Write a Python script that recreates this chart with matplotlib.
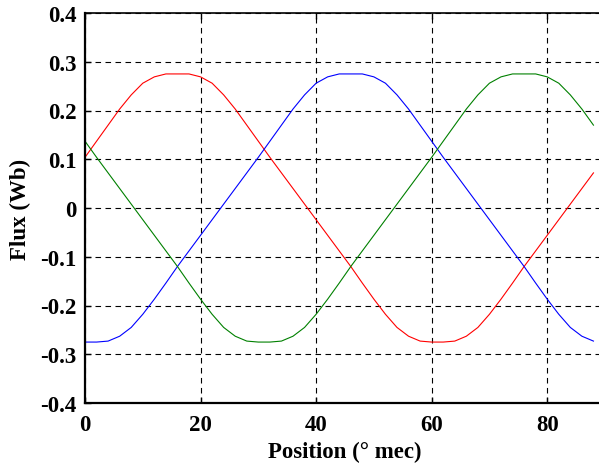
import numpy as np
import matplotlib
matplotlib.use('Agg')
import matplotlib.pyplot as plt

plt.rcParams['font.family'] = ['Liberation Serif', 'DejaVu Serif']
plt.rcParams['font.weight'] = 'bold'

# position (mech. degrees), step 2
pos = np.arange(0, 89, 2)

flux_a = [0.104, 0.137, 0.170, 0.203, 0.232, 0.256, 0.269, 0.275, 0.275, 0.275,
          0.269, 0.256, 0.232, 0.203, 0.170, 0.137, 0.104, 0.072, 0.040, 0.008,
          -0.024, -0.056, -0.088, -0.120, -0.154, -0.187, -0.218, -0.245, -0.263, -0.273,
          -0.275, -0.275, -0.273, -0.263, -0.245, -0.218, -0.187, -0.154, -0.120, -0.088,
          -0.056, -0.024, 0.008, 0.040, 0.072]
flux_b = [-0.275, -0.275, -0.273, -0.263, -0.245, -0.218, -0.187, -0.154, -0.120, -0.088,
          -0.056, -0.024, 0.008, 0.040, 0.072, 0.104, 0.137, 0.170, 0.203, 0.232,
          0.256, 0.269, 0.275, 0.275, 0.275, 0.269, 0.256, 0.232, 0.203, 0.170,
          0.137, 0.104, 0.072, 0.040, 0.008, -0.024, -0.056, -0.088, -0.120, -0.154,
          -0.187, -0.218, -0.245, -0.263, -0.273]
flux_c = [0.137, 0.104, 0.072, 0.040, 0.008, -0.024, -0.056, -0.088, -0.120, -0.154,
          -0.187, -0.218, -0.245, -0.263, -0.273, -0.275, -0.275, -0.273, -0.263, -0.245,
          -0.218, -0.187, -0.154, -0.120, -0.088, -0.056, -0.024, 0.008, 0.040, 0.072,
          0.104, 0.137, 0.170, 0.203, 0.232, 0.256, 0.269, 0.275, 0.275, 0.275,
          0.269, 0.256, 0.232, 0.203, 0.170]

xticks = [0, 20, 40, 60, 80]
yticks = [-0.4, -0.3, -0.2, -0.1, 0, 0.1, 0.2, 0.3, 0.4]
ytick_labels = ['-0.4', '-0.3', '-0.2', '-0.1', '0', '0.1', '0.2', '0.3', '0.4']

fig = plt.figure(figsize=(5.99, 4.64), dpi=100)
# right edge of the axes falls outside the picture (cropped like the original)
ax = fig.add_axes([85 / 599, 60 / 464, 520 / 599, 390 / 464])

ax.plot(pos, flux_a, color='#ff0000', lw=0.8)
ax.plot(pos, flux_b, color='#0000ff', lw=0.8)
ax.plot(pos, flux_c, color='#008000', lw=0.8)

ax.set_xlim(0, 90)
ax.set_ylim(-0.4, 0.4)
ax.set_xticks(xticks)
ax.set_yticks(yticks)
ax.set_yticklabels(ytick_labels)
ax.grid(True, color='black', linestyle=(0, (5, 4)), linewidth=0.8)

for s in ['left', 'bottom']:
    ax.spines[s].set_linewidth(1.6)
ax.spines['top'].set_linewidth(1.2)
ax.tick_params(direction='in', length=4, width=1, labelsize=16.5, top=True, right=True)
ax.tick_params(axis='x', pad=8)
ax.tick_params(axis='y', pad=6)

ax.set_xlabel('Position (° mec)', fontsize=16.5, fontweight='bold', labelpad=4)
ax.set_ylabel('Flux (Wb)', fontsize=16.5, fontweight='bold', labelpad=7)

fig.savefig('out.png', dpi=100)
